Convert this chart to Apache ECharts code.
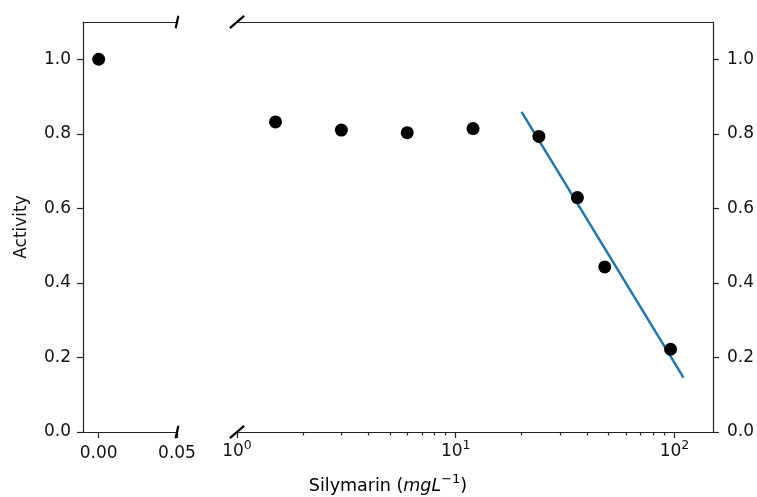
<!DOCTYPE html>
<html><head><meta charset="utf-8">
<script src="https://cdn.jsdelivr.net/npm/echarts@6/dist/echarts.min.js"></script>
<style>html,body{margin:0;padding:0;background:#fff}#c{width:757px;height:497px}</style>
</head><body><div id="c"></div><script>
// ---- data ----
const zeroX = [0];
const zeroY = [1.0];
const concX = [1.5, 3, 6, 12, 24, 36, 48, 96];
const activityY = [0.832, 0.810, 0.803, 0.814, 0.793, 0.629, 0.443, 0.222];
const fitX = [20, 110];
const fitY = [0.859, 0.146];
const yTicks = [0, 0.2, 0.4, 0.6, 0.8, 1.0];
const leftXTicks = [0, 0.05];
const logMajor = [1, 10, 100];
const logMinor = [2, 3, 4, 5, 6, 7, 8, 9, 20, 30, 40, 50, 60, 70, 80, 90];

// ---- layout ----
const TOP = 22, H = 410;
const G0 = { left: 83, width: 94 };
const G1 = { left: 237, width: 476 };
const FONT = 'DejaVu Sans';
const FS = 17;
const TXT = '#111';
const AX = { color: '#222', width: 1.2 };

const chart = echarts.init(document.getElementById('c'), null, { renderer: 'canvas' });

const lineOnly = (grid, type, pos, extra) => Object.assign({
  gridIndex: grid, type: type, position: pos,
  axisLine: { show: true, onZero: false, lineStyle: AX },
  axisTick: { show: false }, axisLabel: { show: false }, splitLine: { show: false }
}, extra);

const supRich = {
  b: { fontFamily: FONT, fontSize: FS, color: TXT },
  s: { fontFamily: FONT, fontSize: 12.5, color: TXT, padding: [0, 0, 12, 0] }
};

const option = {
  animation: false,
  backgroundColor: '#fff',
  grid: [
    { left: G0.left, top: TOP, width: G0.width, height: H },
    { left: G1.left, top: TOP, width: G1.width, height: H }
  ],
  xAxis: [
    {
      gridIndex: 0, type: 'value', position: 'bottom', min: -0.01, max: 0.05,
      axisLine: { show: true, onZero: false, lineStyle: AX },
      axisTick: { show: true, customValues: leftXTicks, length: 6, lineStyle: AX },
      axisLabel: { customValues: leftXTicks, formatter: v => v.toFixed(2), margin: 13,
        fontFamily: FONT, fontSize: FS, color: TXT },
      splitLine: { show: false }
    },
    lineOnly(0, 'value', 'top', { min: -0.01, max: 0.05 }),
    {
      gridIndex: 1, type: 'log', logBase: 10, position: 'bottom', min: 1, max: 150,
      axisLine: { show: true, onZero: false, lineStyle: AX },
      axisTick: { show: true, customValues: logMajor, length: 6, lineStyle: AX },
      axisLabel: { customValues: logMajor, margin: 7,
        formatter: v => '{b|10}{s|' + Math.round(Math.log10(v)) + '}', rich: supRich },
      splitLine: { show: false }, minorTick: { show: false }
    },
    lineOnly(1, 'log', 'top', { min: 1, max: 150, logBase: 10 }),
    {
      gridIndex: 1, type: 'log', logBase: 10, position: 'bottom', min: 1, max: 150,
      axisLine: { show: false },
      axisTick: { show: true, customValues: logMinor, length: 3.5, lineStyle: AX },
      axisLabel: { show: false }, splitLine: { show: false }
    }
  ],
  yAxis: [
    {
      gridIndex: 0, type: 'value', position: 'left', min: 0, max: 1.1,
      axisLine: { show: true, onZero: false, lineStyle: AX },
      axisTick: { show: true, customValues: yTicks, length: 6, lineStyle: AX },
      axisLabel: { customValues: yTicks, formatter: v => v.toFixed(1), margin: 12,
        fontFamily: FONT, fontSize: FS, color: TXT },
      splitLine: { show: false },
      name: 'Activity', nameLocation: 'middle', nameGap: 53,
      nameTextStyle: { fontFamily: FONT, fontSize: FS, color: TXT }
    },
    {
      gridIndex: 1, type: 'value', position: 'right', min: 0, max: 1.1,
      axisLine: { show: true, onZero: false, lineStyle: AX },
      axisTick: { show: true, customValues: yTicks, length: 6, lineStyle: AX },
      axisLabel: { customValues: yTicks, formatter: v => v.toFixed(1), margin: 14,
        fontFamily: FONT, fontSize: FS, color: TXT },
      splitLine: { show: false }
    }
  ],
  series: [
    {
      type: 'line', xAxisIndex: 2, yAxisIndex: 1, z: 2,
      data: fitX.map((x, i) => [x, fitY[i]]),
      showSymbol: false, symbol: 'none',
      lineStyle: { color: '#2275ad', width: 2.5 }
    },
    {
      type: 'scatter', xAxisIndex: 0, yAxisIndex: 0, z: 5,
      data: zeroX.map((x, i) => [x, zeroY[i]]),
      symbolSize: 13, itemStyle: { color: '#000', opacity: 1 }
    },
    {
      type: 'scatter', xAxisIndex: 2, yAxisIndex: 1, z: 5,
      data: concX.map((x, i) => [x, activityY[i]]),
      symbolSize: 13, itemStyle: { color: '#000', opacity: 1 }
    }
  ]
};
chart.setOption(option);

// break markers (matplotlib style, d = 0.015 in axes fraction)
const d = 0.015;
const mk = (cx, cy, w) => ({
  type: 'line', silent: true, z: 100,
  shape: { x1: cx - d * w, y1: cy + d * H, x2: cx + d * w, y2: cy - d * H },
  style: { stroke: '#000', lineWidth: 2.2 }
});
const r0 = G0.left + G0.width, l1 = G1.left;
chart.setOption({
  graphic: [
    mk(r0, TOP, G0.width), mk(r0, TOP + H, G0.width),
    mk(l1, TOP, G1.width), mk(l1, TOP + H, G1.width),
    {
      type: 'text', silent: true, z: 100,
      x: 388, y: 486,
      style: {
        text: '{n|Silymarin (}{i|mgL}{s|\u22121}{n|)}',
        align: 'center', verticalAlign: 'middle',
        rich: {
          n: { fontFamily: FONT, fontSize: 17.5, color: TXT },
          i: { fontFamily: FONT, fontSize: 17.5, fontStyle: 'italic', color: TXT },
          s: { fontFamily: FONT, fontSize: 13, color: TXT, padding: [0, 0, 12, 0] }
        }
      }
    }
  ]
});
</script></body></html>
